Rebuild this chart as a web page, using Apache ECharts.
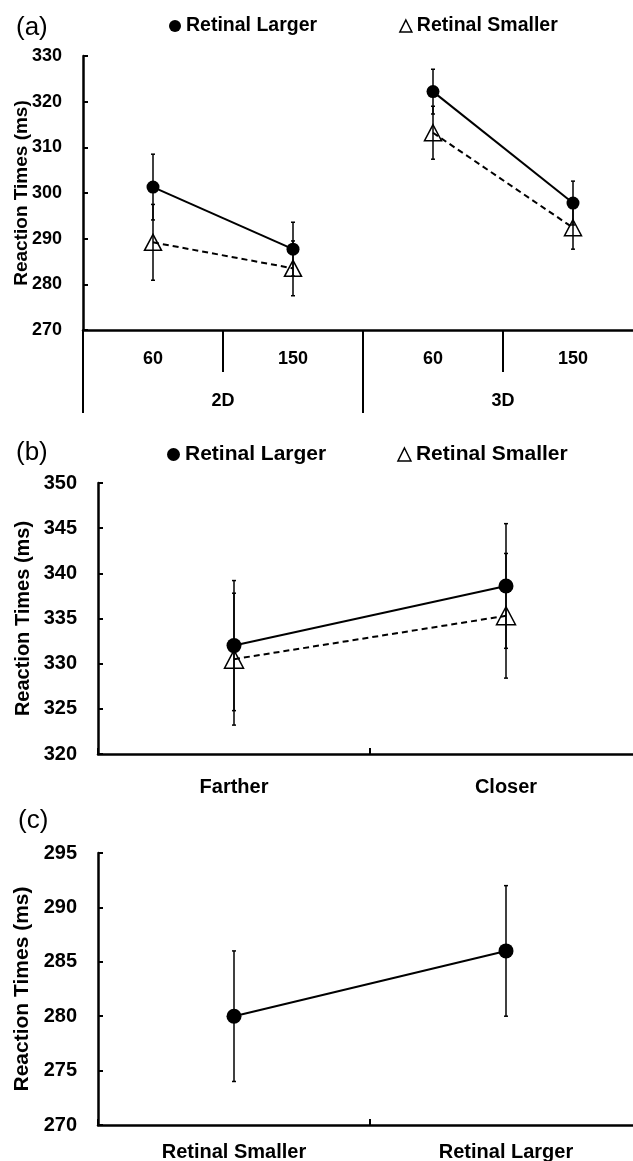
<!DOCTYPE html>
<html>
<head>
<meta charset="utf-8">
<script src="https://cdn.jsdelivr.net/npm/echarts@6/dist/echarts.min.js"></script>
<style>
  html, body { margin: 0; padding: 0; background: #fff; }
  #chart { width: 633px; height: 1161px; }
</style>
</head>
<body>
<div id="chart"></div>
<script>
// panel (a): 2D / 3D x size
const groupCats = ['2D', '3D'];
const sizeCats = ['60', '150', '60', '150'];
const aLarger = [301.3, 287.7, 322.2, 297.8];
const aLargerErr = [7.2, 5.9, 4.9, 4.8];
const aSmaller = [289.2, 283.5, 313.2, 292.4];
const aSmallerErr = [8.3, 6.0, 5.8, 4.7];

// panel (b): distance
const distCats = ['Farther', 'Closer'];
const bLarger = [332.0, 338.6];
const bLargerErr = [7.2, 6.9];
const bSmaller = [330.5, 335.3];
const bSmallerErr = [7.3, 6.9];

// panel (c): retinal size
const retinalCats = ['Retinal Smaller', 'Retinal Larger'];
const cMeans = [280, 286];
const cErr = [6, 6];

const FONT = "'Liberation Sans', Arial, sans-serif";
const black = '#000';

function seg(values, from, to) {
  return values.map((v, i) => (i >= from && i <= to ? v : '-'));
}

function bars(values, errs) {
  return values.map((v, i) => [i, v - errs[i], v + errs[i]]);
}

function errorBar(params, api) {
  const x = api.value(0);
  const top = api.coord([x, api.value(2)]);
  const bot = api.coord([x, api.value(1)]);
  const cap = 2;
  const st = { stroke: black, lineWidth: 1.5 };
  return {
    type: 'group',
    children: [
      { type: 'line', shape: { x1: top[0], y1: top[1], x2: bot[0], y2: bot[1] }, style: st },
      { type: 'line', shape: { x1: top[0] - cap, y1: top[1], x2: top[0] + cap, y2: top[1] }, style: st },
      { type: 'line', shape: { x1: bot[0] - cap, y1: bot[1], x2: bot[0] + cap, y2: bot[1] }, style: st }
    ]
  };
}

function errSeries(xi, yi, data) {
  return {
    type: 'custom', xAxisIndex: xi, yAxisIndex: yi, z: 5,
    renderItem: errorBar, data: data, silent: true
  };
}

function larger(xi, yi, data, size) {
  return {
    name: 'Retinal Larger', type: 'line', xAxisIndex: xi, yAxisIndex: yi,
    data: data, symbol: 'circle', symbolSize: size,
    lineStyle: { color: black, width: 2 },
    itemStyle: { color: black }
  };
}

function smaller(xi, yi, data, size) {
  return {
    name: 'Retinal Smaller', type: 'line', xAxisIndex: xi, yAxisIndex: yi,
    data: data, symbol: 'triangle', symbolSize: size,
    lineStyle: { color: black, width: 2, type: [6, 4] },
    itemStyle: { color: 'rgba(255,255,255,0)', borderColor: black, borderWidth: 1.5 }
  };
}

const tickLabel = (size) => ({ color: black, fontFamily: FONT, fontWeight: 'bold', fontSize: size });

function valueAxis(grid, min, max, interval, labelSize, nameSize, nameGap) {
  return {
    type: 'value', gridIndex: grid, min: min, max: max, interval: interval,
    name: 'Reaction Times (ms)', nameLocation: 'middle', nameGap: nameGap,
    nameMoveOverlap: false,
    nameTextStyle: { color: black, fontFamily: FONT, fontWeight: 'bold', fontSize: nameSize },
    axisLine: { show: true, lineStyle: { color: black, width: 2.5 } },
    axisTick: { show: true, inside: true, length: 5, lineStyle: { color: black, width: 2 } },
    axisLabel: Object.assign({ margin: 21 }, tickLabel(labelSize)),
    splitLine: { show: false }
  };
}

const legendText = (size) => ({ color: black, fontFamily: FONT, fontWeight: 'bold', fontSize: size });
const triIcon = { color: 'rgba(255,255,255,0)', borderColor: black, borderWidth: 1.5 };
const panelLabel = { fontFamily: FONT, fontWeight: 'normal', fontSize: 26, color: black };

const option = {
  animation: false,
  backgroundColor: '#fff',
  title: [
    { text: '(a)', left: 16, top: 15, padding: 0, textStyle: panelLabel },
    { text: '(b)', left: 16, top: 440, padding: 0, textStyle: panelLabel },
    { text: '(c)', left: 18, top: 808, padding: 0, textStyle: panelLabel }
  ],
  legend: [
    {
      left: 169, top: 16, padding: 0, itemGap: 82, itemWidth: 12, itemHeight: 12,
      textStyle: legendText(19.5),
      data: [
        { name: 'Retinal Larger', icon: 'circle' },
        { name: 'Retinal Smaller', icon: 'triangle', itemStyle: triIcon }
      ]
    },
    {
      left: 167, top: 444, padding: 0, itemGap: 71, itemWidth: 13, itemHeight: 13,
      textStyle: legendText(21),
      data: [
        { name: 'Retinal Larger', icon: 'circle' },
        { name: 'Retinal Smaller', icon: 'triangle', itemStyle: triIcon }
      ]
    }
  ],
  grid: [
    { left: 83, top: 56, width: 560, height: 274, outerBoundsMode: 'none' },
    { left: 98, top: 483, width: 544, height: 271, outerBoundsMode: 'none' },
    { left: 98, top: 853, width: 544, height: 272, outerBoundsMode: 'none' }
  ],
  xAxis: [
    {
      type: 'category', gridIndex: 0, data: sizeCats, position: 'bottom',
      axisLine: { onZero: false, lineStyle: { color: black, width: 2.5 } },
      axisTick: { show: true, interval: 0, length: 42, lineStyle: { color: black, width: 2 } },
      axisLabel: Object.assign({ margin: 20, interval: 0 }, tickLabel(18))
    },
    {
      type: 'category', gridIndex: 0, data: groupCats, position: 'bottom',
      axisLine: { show: false, onZero: false },
      axisTick: { show: true, interval: 0, length: 83, lineStyle: { color: black, width: 2 } },
      axisLabel: Object.assign({ margin: 62, interval: 0 }, tickLabel(18))
    },
    {
      type: 'category', gridIndex: 1, data: distCats,
      axisLine: { onZero: false, lineStyle: { color: black, width: 2.5 } },
      axisTick: { show: true, inside: true, length: 6, lineStyle: { color: black, width: 2 } },
      axisLabel: Object.assign({ margin: 23, interval: 0 }, tickLabel(20))
    },
    {
      type: 'category', gridIndex: 2, data: retinalCats,
      axisLine: { onZero: false, lineStyle: { color: black, width: 2.5 } },
      axisTick: { show: true, inside: true, length: 6, lineStyle: { color: black, width: 2 } },
      axisLabel: Object.assign({ margin: 17, interval: 0 }, tickLabel(20))
    }
  ],
  yAxis: [
    valueAxis(0, 270, 330, 10, 18, 19, 52),
    valueAxis(1, 320, 350, 5, 20, 20, 65),
    valueAxis(2, 270, 295, 5, 20, 21, 65)
  ],
  series: [
    // (a)
    larger(0, 0, seg(aLarger, 0, 1), 13),
    larger(0, 0, seg(aLarger, 2, 3), 13),
    smaller(0, 0, seg(aSmaller, 0, 1), [17, 16]),
    smaller(0, 0, seg(aSmaller, 2, 3), [17, 16]),
    errSeries(0, 0, bars(aLarger, aLargerErr)),
    errSeries(0, 0, bars(aSmaller, aSmallerErr)),
    // (b)
    larger(2, 1, bLarger, 15),
    smaller(2, 1, bSmaller, [19, 18]),
    errSeries(2, 1, bars(bLarger, bLargerErr)),
    errSeries(2, 1, bars(bSmaller, bSmallerErr)),
    // (c)
    {
      name: 'Mean', type: 'line', xAxisIndex: 3, yAxisIndex: 2,
      data: cMeans, symbol: 'circle', symbolSize: 15,
      lineStyle: { color: black, width: 2 }, itemStyle: { color: black }
    },
    errSeries(3, 2, bars(cMeans, cErr))
  ]
};

const chart = echarts.init(document.getElementById('chart'));
chart.setOption(option);
</script>
</body>
</html>
